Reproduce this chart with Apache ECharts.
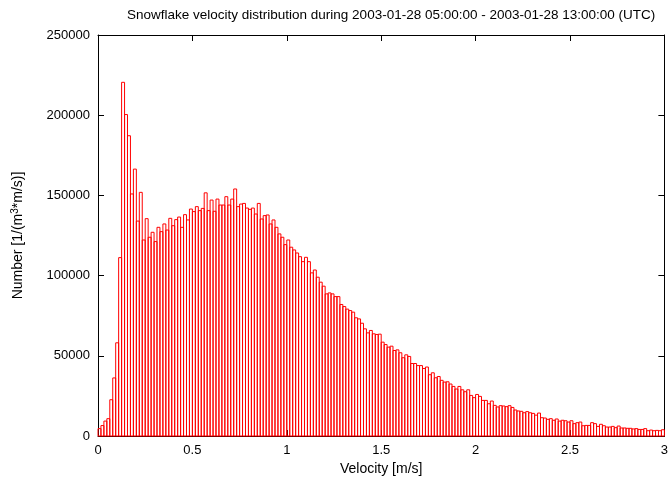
<!DOCTYPE html>
<html>
<head>
<meta charset="utf-8">
<script src="https://cdn.jsdelivr.net/npm/echarts@6/dist/echarts.min.js"></script>
<style>
  html, body { margin: 0; padding: 0; background: #fff; }
  #chart { width: 671px; height: 481px; }
</style>
</head>
<body>
<div id="chart"></div>
<script>
// Histogram bin width in m/s (1/64) and the number of snowflakes per bin
const BIN_WIDTH = 1 / 64;
const counts = [
  4600, 6500, 9300, 10800, 22600, 36200, 58100, 111200, 220500, 200400,
  187200, 150900, 166400, 134000, 151900, 122200, 135500, 123900, 127000, 121200,
  130100, 127400, 132200, 128400, 135700, 131100, 134900, 136500, 130100, 138000,
  134700, 141500, 139900, 143000, 140500, 141900, 151600, 140500, 147100, 140100,
  147700, 144000, 144000, 149200, 144000, 147700, 154000, 143000, 144600, 145000,
  142100, 141300, 142100, 138400, 145000, 135300, 137400, 137800, 132200, 134700,
  130100, 126000, 123900, 119300, 122200, 117700, 116000, 114100, 111800, 108700,
  111400, 108700, 101700, 103500, 99000, 95900, 93400, 88600, 89200, 88600,
  86900, 86900, 82000, 80700, 79100, 78200, 77200, 73700, 73000, 70300,
  66800, 64300, 65800, 63700, 63300, 63500, 58500, 57000, 55400, 56000,
  53300, 53700, 51900, 48800, 50600, 49600, 45200, 45200, 43900, 43900,
  42100, 43000, 38200, 39400, 36300, 37100, 34700, 33600, 33800, 32400,
  30900, 29300, 30900, 28800, 27600, 28800, 25300, 23900, 25900, 24700,
  22200, 22200, 20100, 21800, 19100, 18100, 18900, 18700, 18300, 18900,
  17800, 16200, 15600, 15400, 14500, 15200, 14500, 14100, 13000, 14300,
  11400, 11200, 10400, 10800, 9800, 10600, 9300, 9800, 9500, 8700,
  9500, 7700, 8300, 8700, 6400, 6600, 6600, 8300, 7700, 6000,
  7300, 6400, 5600, 5600, 6000, 5200, 6200, 5000, 5000, 4800,
  4800, 4400, 4600, 4100, 4100, 4600, 3300, 3700, 3300, 3500,
  3300, 3900
];

const X_MIN = 0, X_MAX = 3, X_STEP = 0.5;
const Y_MIN = 0, Y_MAX = 250000, Y_STEP = 50000;

const TITLE = 'Snowflake velocity distribution during 2003-01-28 05:00:00 - 2003-01-28 13:00:00 (UTC)';
const X_NAME = 'Velocity [m/s]';

// each box spans [lower edge, upper edge] of its bin
const boxes = counts.map((c, i) => [i * BIN_WIDTH, (i + 1) * BIN_WIDTH, c]);

const FONT = 'Liberation Sans, Arial, Helvetica, sans-serif';
const TICK_FONT = 13;
const NAME_FONT = 14;

const chart = echarts.init(document.getElementById('chart'), null, { renderer: 'canvas' });

// plain numbers on the ticks, no thousands separators
function plain(v) { return String(v); }

function axisCommon(extra) {
  return Object.assign({
    type: 'value',
    axisLine: { show: true, onZero: false, lineStyle: { color: '#000', width: 1 } },
    axisTick: { show: true, inside: true, length: 6, lineStyle: { color: '#000', width: 1 } },
    splitLine: { show: false },
    axisLabel: { fontFamily: FONT, fontSize: TICK_FONT, color: '#000', margin: 8, formatter: plain }
  }, extra);
}

chart.setOption({
  animation: false,
  backgroundColor: '#fff',
  title: {
    text: TITLE,
    left: 122,
    top: 3,
    textStyle: { fontFamily: FONT, fontSize: 13.5, fontWeight: 'normal', color: '#000' }
  },
  grid: { left: 98, right: 1, top: 35, bottom: 45, show: false },
  xAxis: [
    axisCommon({
      position: 'bottom', min: X_MIN, max: X_MAX, interval: X_STEP,
      name: X_NAME, nameLocation: 'middle', nameGap: 25,
      nameTextStyle: { fontFamily: FONT, fontSize: NAME_FONT, color: '#000' }
    }),
    axisCommon({
      position: 'top', min: X_MIN, max: X_MAX, interval: X_STEP,
      axisLabel: { show: false }
    })
  ],
  yAxis: [
    axisCommon({
      position: 'left', min: Y_MIN, max: Y_MAX, interval: Y_STEP,
      name: '{t|Number [1/(m}{s|3}{t|*m/s)]}',
      nameLocation: 'middle', nameGap: 71, nameRotate: 90,
      nameTextStyle: {
        fontFamily: FONT, fontSize: NAME_FONT, color: '#000',
        rich: {
          t: { fontFamily: FONT, fontSize: NAME_FONT, color: '#000' },
          s: { fontFamily: FONT, fontSize: 10, color: '#000', padding: [0, 0, 7, 0] }
        }
      }
    }),
    axisCommon({
      position: 'right', min: Y_MIN, max: Y_MAX, interval: Y_STEP,
      axisLabel: { show: false }
    })
  ],
  series: [{
    type: 'custom',
    xAxisIndex: 0,
    yAxisIndex: 0,
    z: 5,
    encode: { x: [0, 1], y: 2 },
    data: boxes,
    renderItem: function (params, api) {
      const topLeft = api.coord([api.value(0), api.value(2)]);
      const bottomRight = api.coord([api.value(1), 0]);
      return {
        type: 'rect',
        shape: {
          x: topLeft[0],
          y: topLeft[1],
          width: bottomRight[0] - topLeft[0],
          height: bottomRight[1] - topLeft[1]
        },
        style: { fill: 'none', stroke: '#ff0000', lineWidth: 1 }
      };
    }
  }]
});
</script>
</body>
</html>
